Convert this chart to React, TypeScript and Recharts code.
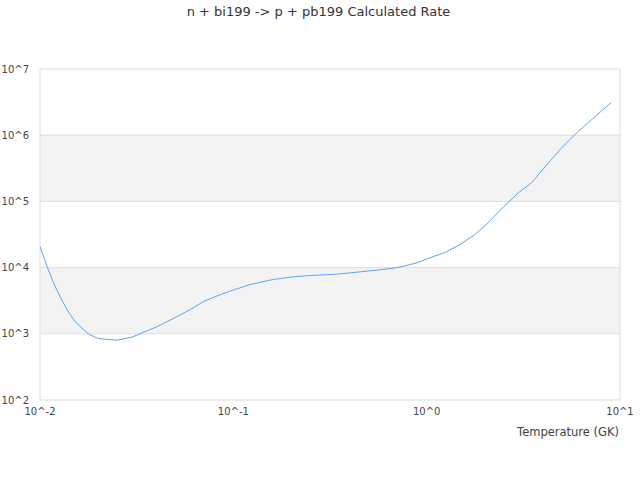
import React from 'react';
import { LineChart, Line, XAxis, YAxis, CartesianGrid } from 'recharts';

const temperatures = [0.01, 0.011, 0.012, 0.013, 0.014, 0.015, 0.016, 0.018, 0.02, 0.025, 0.03, 0.04, 0.05, 0.06, 0.07, 0.08, 0.09, 0.1, 0.12, 0.14, 0.16, 0.18, 0.2, 0.25, 0.3, 0.35, 0.4, 0.5, 0.6, 0.7, 0.8, 0.9, 1, 1.25, 1.5, 1.75, 2, 2.5, 3, 3.5, 4, 5, 6, 7, 8, 9];
const rates = [2.07e4, 9.5e3, 5.1e3, 3.19e3, 2.16e3, 1.61e3, 1.31e3, 975, 849, 800, 895, 1.27e3, 1.76e3, 2.33e3, 3.08e3, 3.6e3, 4.13e3, 4.59e3, 5.46e3, 6.06e3, 6.6e3, 6.9e3, 7.2e3, 7.6e3, 7.8e3, 8.0e3, 8.3e3, 8.9e3, 9.4e3, 1.0e4, 1.09e4, 1.19e4, 1.35e4, 1.7e4, 2.27e4, 3.05e4, 4.25e4, 8.26e4, 1.37e5, 1.93e5, 3.07e5, 6.5e5, 1.1e6, 1.64e6, 2.31e6, 3.1e6];

const xTicks = [0.01, 0.1, 1, 10];
const yTicks = [1e2, 1e3, 1e4, 1e5, 1e6, 1e7];

const title = 'n + bi199 -> p + pb199 Calculated Rate';
const xLabel = 'Temperature (GK)';

const data = temperatures.map((t, i) => ({ t, r: rates[i] }));

const fmt = (v: number) => `10^${Math.round(Math.log10(v))}`;

const FONT = '"DejaVu Sans", Verdana, sans-serif';

export default function App() {
  return (
    <div style={{ position: 'absolute', left: 0, top: 0, width: 640, height: 480, background: '#fff' }}>
      <div
        style={{
          position: 'absolute',
          left: 0,
          top: 4,
          width: 637,
          textAlign: 'center',
          fontFamily: FONT,
          fontSize: 13,
          lineHeight: '16px',
          color: '#333',
        }}
      >
        {title}
      </div>
      <LineChart width={640} height={480} data={data} margin={{ top: 69, right: 20, bottom: 43, left: 0 }}>
        <CartesianGrid
          stroke="#dddddd"
          horizontalFill={['#ffffff', '#f3f3f3']}
          verticalCoordinatesGenerator={({ offset }: any) => [offset.left, offset.left + offset.width]}
        />
        <XAxis
          dataKey="t"
          type="number"
          scale="log"
          domain={[0.01, 10]}
          ticks={xTicks}
          tickFormatter={fmt}
          allowDataOverflow
          axisLine={false}
          tickLine={false}
          height={37}
          tick={{ fontSize: 10, fill: '#444', fontFamily: FONT }}
          label={{ value: xLabel, position: 'insideBottomRight', offset: 1, fontSize: 11.5, fill: '#444', fontFamily: FONT }}
        />
        <YAxis
          type="number"
          scale="log"
          domain={[1e2, 1e7]}
          ticks={yTicks}
          tickFormatter={fmt}
          allowDataOverflow
          axisLine={false}
          tickLine={false}
          width={40}
          tickMargin={5}
          tick={{ fontSize: 10, fill: '#444', fontFamily: FONT }}
        />
        <Line
          dataKey="r"
          type="linear"
          stroke="#5ea3ef"
          strokeWidth={1}
          dot={false}
          isAnimationActive={false}
        />
      </LineChart>
    </div>
  );
}
